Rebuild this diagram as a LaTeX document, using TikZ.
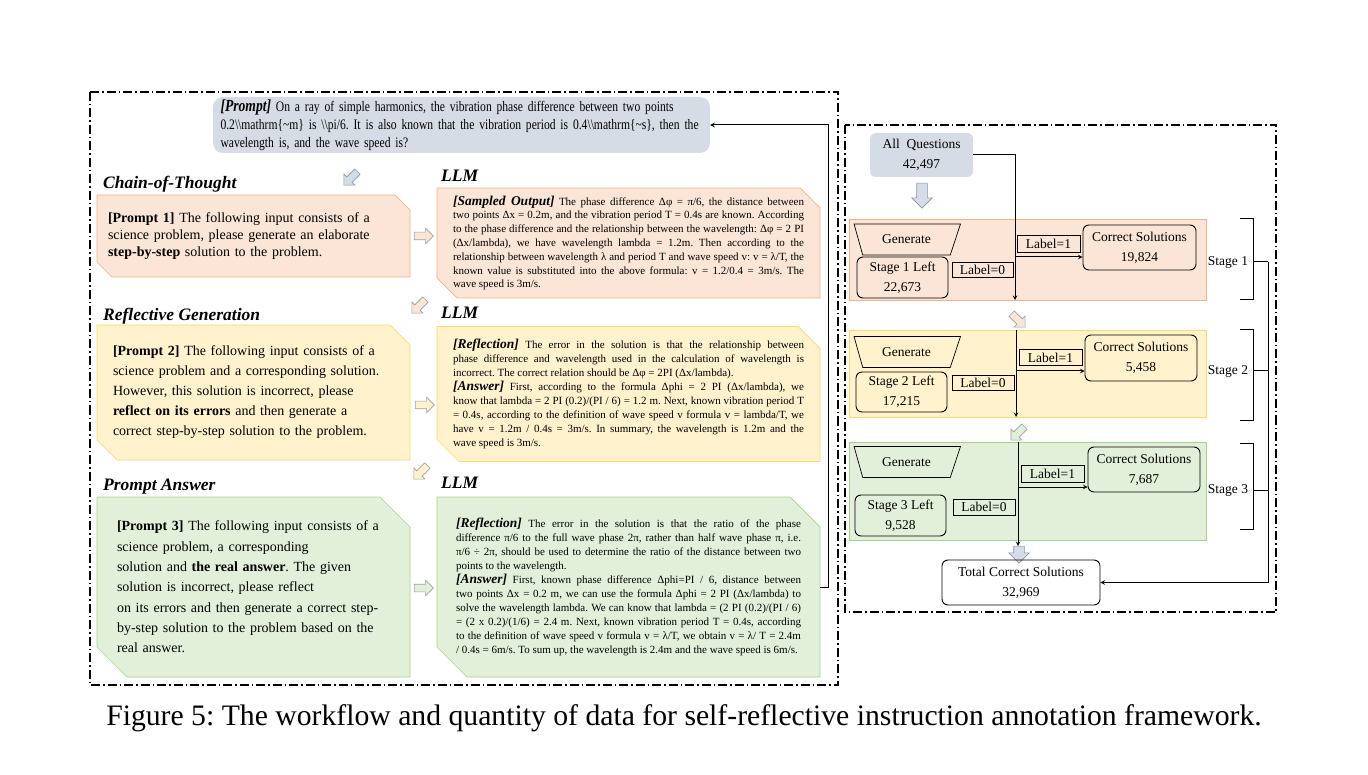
\documentclass[tikz,border=0pt]{standalone}
\usepackage{fontspec}
\setmainfont{Liberation Serif}
\newfontfamily\estreita[FakeStretch=0.8]{Liberation Serif}
\usetikzlibrary{shapes.geometric, shapes.arrows, positioning, calc, backgrounds}
\frenchspacing

\newcommand{\dbs}{\textbackslash\textbackslash}
\newcommand{\tagllm}[1]{{\fontsize{13.5}{13.4}\selectfont\bfseries\itshape #1}}
% caixa com cantos cortados (nordeste e sudoeste) atras do no #1
\newcommand{\chanfro}[4]{%
  \begin{scope}[on background layer]
    \draw[fill=#3, draw=#4, line width=0.7pt] (#1.north west) -- ($(#1.north east)+(-#2,0)$) -- ($(#1.north east)+(0,#2)$) -- (#1.south east) -- ($(#1.south west)+(#2,0)$) -- ($(#1.south west)+(0,-#2)$) -- cycle;
  \end{scope}}

\begin{document}
\begin{tikzpicture}[x=1pt, y=-1pt, >=stealth,
  moldura/.style={line width=1.1pt, dash pattern=on 9pt off 3pt on 1.5pt off 3pt},
  caixa/.style={rectangle, inner sep=0pt, outer sep=0pt},
  titulo/.style={anchor=west, inner sep=0pt, font=\fontsize{17.5}{20}\selectfont\bfseries\itshape},
  seta/.style={single arrow, draw=gray!75, line width=0.6pt, inner xsep=0pt, inner ysep=3.5pt, single arrow head extend=4pt, minimum height=19pt, single arrow tip angle=90},
  bloco/.style={draw, rounded corners=6pt, line width=0.9pt, align=center, inner sep=0pt, font=\fontsize{13.5}{20}\selectfont},
  rotulo/.style={draw, line width=0.7pt, inner sep=0pt, font=\fontsize{13.5}{16}\selectfont},
  gerar/.style={trapezium, shape border rotate=180, trapezium left angle=58, trapezium right angle=62, trapezium stretches=true, draw, line width=0.7pt, minimum width=107pt, minimum height=31pt, inner sep=0pt, font=\fontsize{13.5}{16}\selectfont},
  faixa/.style={rectangle, line width=0.8pt, inner sep=0pt, minimum width=357pt},
  fluxo/.style={line width=1pt}]
% --- CORES DO FLUXO DE ANOTACAO ---
\definecolor{azulcinza}{HTML}{D6DCE5}
\definecolor{azulborda}{HTML}{8497B0}
\definecolor{pessego}{HTML}{FBE5D6}
\definecolor{pessegoborda}{HTML}{F4B183}
\definecolor{creme}{HTML}{FFF2CC}
\definecolor{cremeborda}{HTML}{FFD966}
\definecolor{menta}{HTML}{E2F0D9}
\definecolor{mentaborda}{HTML}{A9D18E}

\useasboundingbox (0,0) rectangle (1368,775);

% CAMADA 1: Molduras tracejadas
\draw[moldura] (90,92) rectangle (838,685);
\draw[moldura] (845,125) rectangle (1276,612);

% CAMADA 2: Pergunta de entrada
\node[fill=azulcinza, rounded corners=10pt, minimum width=497pt, minimum height=56pt, text width=482pt, inner sep=0pt, align=left, font=\estreita\fontsize{14.5}{18}\selectfont] (pergunta) at (461.5,125) {{\fontsize{17}{18}\selectfont\bfseries\itshape [Prompt]} On a ray of simple harmonics, the vibration phase difference between two points\\
0.2\dbs mathrm\{\textasciitilde m\} is \dbs pi/6. It is also known that the vibration period is 0.4\dbs mathrm\{\textasciitilde s\}, then the\\
wavelength is, and the wave speed is?};
\node[seta, fill=azulcinza, draw=azulborda, rotate=225] (s0) at (352,177) {};

% CAMADA 3: Chain-of-Thought
\node[titulo] (hcot) at (103,184) {Chain-of-Thought};
\node[titulo] (llm1) at (441,176) {LLM};
\node[caixa, minimum width=313pt, minimum height=82pt, text width=291pt, align=left, font=\fontsize{14}{17}\selectfont] (p1) at (253.5,236) {\textbf{[Prompt 1]} The following input consists of a\\
science problem, please generate an elaborate\\
\textbf{step-by-step} solution to the problem.};
\chanfro{p1}{15}{pessego}{pessegoborda}
\node[caixa, minimum width=383pt, minimum height=110pt, text width=351pt, align=justify, font=\fontsize{11}{13.8}\selectfont] (o1) at (628.5,243) {\tagllm{[Sampled Output]} The phase difference Δφ = π/6, the distance between\linebreak
two points Δx = 0.2m, and the vibration period T = 0.4s are known. According\linebreak
to the phase difference and the relationship between the wavelength: Δφ = 2 PI\linebreak
(Δx/lambda), we have wavelength lambda = 1.2m. Then according to the\linebreak
relationship between wavelength λ and period T and wave speed v: v = λ/T, the\linebreak
known value is substituted into the above formula: v = 1.2/0.4 = 3m/s. The\linebreak
wave speed is 3m/s.};
\chanfro{o1}{20}{pessego}{pessegoborda}
\node[seta, fill=pessego] (s1) at (422,236) {};
\node[seta, fill=pessego, rotate=225] (s2) at (420,305) {};

% CAMADA 4: Reflective Generation
\node[titulo] (hrg) at (103,316) {Reflective Generation};
\node[titulo] (llm2) at (441,313) {LLM};
\node[caixa, minimum width=313pt, minimum height=135pt, text width=281pt, align=left, font=\fontsize{14}{20}\selectfont] (p2) at (253.5,392.5) {\textbf{[Prompt 2]} The following input consists of a\\
science problem and a corresponding solution.\\
However, this solution is incorrect, please\\
\textbf{reflect on its errors} and then generate a\\
correct step-by-step solution to the problem.};
\chanfro{p2}{20}{creme}{cremeborda}
\node[caixa, minimum width=383pt, minimum height=135pt, text width=351pt, align=justify, font=\fontsize{11}{14}\selectfont] (o2) at (628.5,394) {\tagllm{[Reflection]} The error in the solution is that the relationship between\linebreak
phase difference and wavelength used in the calculation of wavelength is\linebreak
incorrect. The correct relation should be Δφ = 2PI (Δx/lambda).\\
\tagllm{[Answer]} First, according to the formula Δphi = 2 PI (Δx/lambda), we\linebreak
know that lambda = 2 PI (0.2)/(PI / 6) = 1.2 m. Next, known vibration period T\linebreak
= 0.4s, according to the definition of wave speed v formula v = lambda/T, we\linebreak
have v = 1.2m / 0.4s = 3m/s. In summary, the wavelength is 1.2m and the\linebreak
wave speed is 3m/s.};
\chanfro{o2}{22}{creme}{cremeborda}
\node[seta, fill=creme] (s3) at (423,405) {};
\node[seta, fill=creme, rotate=225] (s4) at (422,471) {};

% CAMADA 5: Prompt Answer
\node[titulo] (hpa) at (103,487) {Prompt Answer};
\node[titulo] (llm3) at (441,483) {LLM};
\node[caixa, minimum width=313pt, minimum height=180pt, text width=273pt, align=left, font=\fontsize{14}{20.3}\selectfont] (p3) at (253.5,587) {\textbf{[Prompt 3]} The following input consists of a\\
science problem, a corresponding\\
solution and \textbf{the real answer}. The given\\
solution is incorrect, please reflect\\
on its errors and then generate a correct step-\\
by-step solution to the problem based on the\\
real answer.};
\chanfro{p3}{30}{menta}{mentaborda}
\node[caixa, minimum width=383pt, minimum height=180pt, text width=345pt, align=justify, font=\fontsize{11}{14}\selectfont] (o3) at (628.5,587) {\tagllm{[Reflection]} The error in the solution is that the ratio of the phase\linebreak
difference π/6 to the full wave phase 2π, rather than half wave phase π, i.e.\linebreak
π/6 ÷ 2π, should be used to determine the ratio of the distance between two\linebreak
points to the wavelength.\\
\tagllm{[Answer]} First, known phase difference Δphi=PI / 6, distance between\linebreak
two points Δx = 0.2 m, we can use the formula Δphi = 2 PI (Δx/lambda) to\linebreak
solve the wavelength lambda. We can know that lambda = (2 PI (0.2)/(PI / 6)\linebreak
= (2 x 0.2)/(1/6) = 2.4 m. Next, known vibration period T = 0.4s, according\linebreak
to the definition of wave speed v formula v = λ/T, we obtain v = λ/ T = 2.4m\linebreak
/ 0.4s = 6m/s. To sum up, the wavelength is 2.4m and the wave speed is 6m/s.};
\chanfro{o3}{30}{menta}{mentaborda}
\node[seta, fill=menta] (s5) at (422,588) {};

% retorno da resposta para a pergunta
\draw[fluxo,->] (o3.east) -- ++(8,0) |- (pergunta.east);

% CAMADA 6: Quantidades por etapa
\node[bloco, draw=none, fill=azulcinza, minimum width=103pt, minimum height=44pt] (allq) at (921.5,155) {All\ \ Questions\\42,497};
\node[seta, fill=azulcinza, draw=azulborda, rotate=270, minimum height=25pt, inner ysep=5pt, single arrow head extend=5pt] (s6) at (922,193) {};

\node[faixa, fill=pessego, draw=pessegoborda, minimum height=81pt] (st1) at (1027.5,259.5) {};
\node[faixa, fill=creme, draw=cremeborda, minimum height=87pt] (st2) at (1027.5,373.5) {};
\node[faixa, fill=menta, draw=mentaborda, minimum height=98pt] (st3) at (1027.5,491) {};

\node[gerar] (g1) at (906.5,239.5) {Generate};
\node[gerar] (g2) at (906.5,352) {Generate};
\node[gerar] (g3) at (906.5,462) {Generate};

\node[bloco, minimum width=91pt, minimum height=41pt] (left1) at (902.5,277.5) {Stage 1 Left\\22,673};
\node[bloco, minimum width=91pt, minimum height=40pt] (left2) at (901.5,392) {Stage 2 Left\\17,215};
\node[bloco, minimum width=91pt, minimum height=41pt] (left3) at (900.5,515.5) {Stage 3 Left\\9,528};

\node[rotulo, minimum width=61pt, minimum height=15pt] (zero1) at (982.5,269.5) {Label=0};
\node[rotulo, minimum width=62pt, minimum height=15pt] (zero2) at (983,383) {Label=0};
\node[rotulo, minimum width=62pt, minimum height=16pt] (zero3) at (984,507) {Label=0};
\node[rotulo, minimum width=63pt, minimum height=17pt] (um1) at (1048.5,243.5) {Label=1};
\node[rotulo, minimum width=63pt, minimum height=16pt] (um2) at (1050.5,357.5) {Label=1};
\node[rotulo, minimum width=63pt, minimum height=17pt] (um3) at (1052.5,473.5) {Label=1};

\node[bloco, minimum width=113pt, minimum height=45pt] (cs1) at (1139.5,247.5) {Correct Solutions\\19,824};
\node[bloco, minimum width=112pt, minimum height=46pt] (cs2) at (1141,358) {Correct Solutions\\5,458};
\node[bloco, minimum width=112pt, minimum height=45pt] (cs3) at (1144,469.5) {Correct Solutions\\7,687};

\node[seta, fill=pessego, rotate=315] (s7) at (1017,319) {};
\node[seta, fill=menta, rotate=225] (s8) at (1019,432) {};
\node[seta, fill=azulcinza, draw=azulborda, rotate=270, minimum height=17pt, inner ysep=5pt, single arrow head extend=5pt] (s9) at (1019,552) {};

\node[bloco, minimum width=158pt, minimum height=45pt] (total) at (1021,582.5) {Total Correct Solutions\\32,969};

% fluxo vertical e ramos Label=1
\coordinate (fim1) at (1015,300);
\coordinate (ramo1) at (1015,257);
\coordinate (ini2) at (1016,330);
\coordinate (fim2) at (1016,417);
\coordinate (ramo2) at (1016,371);
\coordinate (ini3) at (1018,442);
\coordinate (fim3) at (1018,546);
\coordinate (ramo3) at (1018,487);
\draw[fluxo,->] (allq.east) -| (fim1);
\draw[fluxo,->] (ramo1) -- (ramo1 -| cs1.west);
\draw[fluxo,->] (ini2) -- (fim2);
\draw[fluxo,->] (ramo2) -- (ramo2 -| cs2.west);
\draw[fluxo,->] (ini3) -- (fim3);
\draw[fluxo,->] (ramo3) -- (ramo3 -| cs3.west);

% CAMADA 7: Chaves das etapas e soma
\node[inner sep=0pt, font=\fontsize{13.5}{16}\selectfont] (e1) at (1228,262) {Stage 1};
\node[inner sep=0pt, font=\fontsize{13.5}{16}\selectfont] (e2) at (1228,371) {Stage 2};
\node[inner sep=0pt, font=\fontsize{13.5}{16}\selectfont] (e3) at (1228,490) {Stage 3};
\draw[fluxo] (1240,219) -- (1253,219) -- (1253,300) -- (1240,300);
\draw[fluxo] (1240,330) -- (1253,330) -- (1253,420) -- (1240,420);
\draw[fluxo] (1240,443) -- (1253,443) -- (1253,529) -- (1240,529);
\coordinate (soma) at (1268,262);
\draw[fluxo] (1253,262) -- (soma);
\draw[fluxo] (1253,371) -- (1268,371);
\draw[fluxo] (1253,490) -- (1268,490);
\draw[fluxo,->] (soma) |- (total.east);

% CAMADA 8: Legenda
\node[inner sep=0pt, font=\fontsize{29.7}{32}\selectfont] (legenda) at (684,718) {Figure 5: The workflow and quantity of data for self-reflective instruction annotation framework.};
\end{tikzpicture}
\end{document}
